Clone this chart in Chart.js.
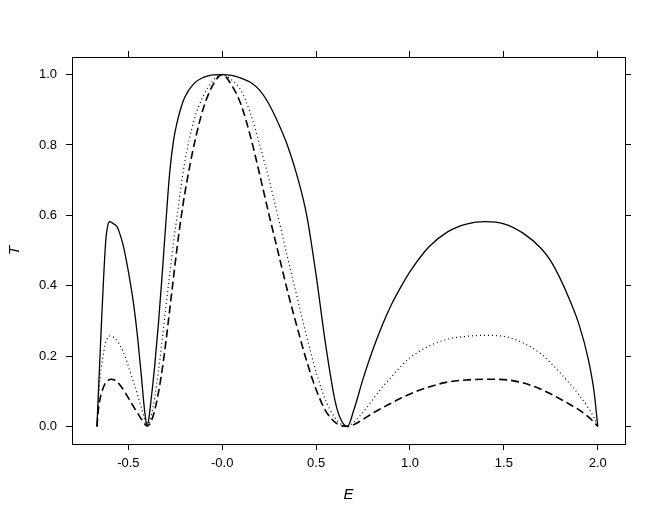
<!DOCTYPE html>
<html>
<head>
<meta charset="utf-8">
<script src="https://cdn.jsdelivr.net/npm/chart.js@4/dist/chart.umd.min.js"></script>
<style>
  html, body { margin: 0; padding: 0; background: #ffffff; }
  #wrap { width: 654px; height: 510px; }
</style>
</head>
<body>
<div id="wrap"><canvas id="chart" width="654" height="510"></canvas></div>
<script>
// Transmission T(E) for three cases (solid, dotted, dashed)
const energies = [
  -0.667, -0.66, -0.65, -0.64, -0.63, -0.62, -0.61, -0.60, -0.59, -0.58,
  -0.57, -0.56, -0.55, -0.53, -0.51, -0.49, -0.47, -0.45, -0.43, -0.42,
  -0.41, -0.40, -0.39, -0.38, -0.36, -0.34, -0.32, -0.30, -0.28, -0.26,
  -0.24, -0.22, -0.20, -0.15, -0.10, -0.05, 0.00, 0.05, 0.10, 0.15,
  0.20, 0.25, 0.30, 0.35, 0.40, 0.45, 0.50, 0.55, 0.60, 0.63,
  0.667, 0.70, 0.75, 0.80, 0.85, 0.90, 0.95, 1.00, 1.10, 1.20,
  1.30, 1.40, 1.50, 1.60, 1.70, 1.75, 1.80, 1.85, 1.90, 1.95,
  1.98, 2.00
];

const solidT = [
  0, 0.09, 0.21, 0.33, 0.44, 0.53, 0.57, 0.582, 0.580, 0.576,
  0.573, 0.567, 0.555, 0.52, 0.47, 0.41, 0.34, 0.25, 0.14, 0.08,
  0.03, 0.003, 0.025, 0.07, 0.17, 0.29, 0.43, 0.58, 0.72, 0.81,
  0.865, 0.905, 0.935, 0.975, 0.992, 0.999, 1.0, 0.998, 0.99, 0.978,
  0.955, 0.915, 0.86, 0.795, 0.71, 0.60, 0.43, 0.235, 0.075, 0.022,
  0, 0.045, 0.135, 0.215, 0.285, 0.345, 0.395, 0.44, 0.51, 0.553,
  0.575, 0.582, 0.576, 0.55, 0.505, 0.47, 0.42, 0.36, 0.29, 0.19,
  0.10, 0
];

const dottedT = [
  0, 0.07, 0.14, 0.18, 0.215, 0.24, 0.252, 0.257, 0.257, 0.254,
  0.25, 0.244, 0.236, 0.215, 0.188, 0.155, 0.122, 0.088, 0.052, 0.033,
  0.013, 0.002, 0.008, 0.025, 0.08, 0.155, 0.245, 0.34, 0.43, 0.52,
  0.60, 0.68, 0.75, 0.87, 0.94, 0.982, 1.0, 0.985, 0.955, 0.89,
  0.80, 0.70, 0.59, 0.475, 0.365, 0.255, 0.155, 0.075, 0.025, 0.007,
  0, 0.012, 0.04, 0.075, 0.11, 0.14, 0.17, 0.195, 0.228, 0.248,
  0.256, 0.259, 0.256, 0.238, 0.205, 0.18, 0.152, 0.122, 0.09, 0.052,
  0.025, 0
];

const dashedT = [
  0, 0.045, 0.08, 0.10, 0.115, 0.125, 0.13, 0.133, 0.134, 0.133,
  0.131, 0.127, 0.121, 0.107, 0.09, 0.072, 0.054, 0.037, 0.02, 0.012,
  0.005, 0.001, 0.004, 0.012, 0.045, 0.095, 0.16, 0.24, 0.33, 0.42,
  0.51, 0.59, 0.66, 0.80, 0.905, 0.97, 1.0, 0.97, 0.915, 0.825,
  0.715, 0.60, 0.49, 0.38, 0.28, 0.185, 0.105, 0.045, 0.012, 0.003,
  0, 0.005, 0.02, 0.037, 0.052, 0.066, 0.08, 0.092, 0.112, 0.126,
  0.132, 0.134, 0.133, 0.124, 0.105, 0.092, 0.078, 0.063, 0.047, 0.027,
  0.012, 0
];

const xTicks = [-0.5, 0, 0.5, 1, 1.5, 2];
const xTickLabels = ['-0.5', '-0.0', '0.5', '1.0', '1.5', '2.0'];
const yTicks = [0, 0.2, 0.4, 0.6, 0.8, 1.0];
const yTickLabels = ['0.0', '0.2', '0.4', '0.6', '0.8', '1.0'];

const toPoints = (ys) => energies.map((e, i) => ({ x: e, y: ys[i] }));

const FONT = "'Liberation Sans', Arial, sans-serif";

function setTicks(values) {
  return (scale) => { scale.ticks = values.map(v => ({ value: v })); };
}

function labelFor(values, labels) {
  return (value) => {
    const i = values.findIndex(v => Math.abs(v - value) < 1e-9);
    return i >= 0 ? labels[i] : '';
  };
}

const frameGrid = {
  display: true,
  drawOnChartArea: false,
  drawTicks: true,
  tickLength: 6,
  tickWidth: 1,
  tickColor: '#000000',
  color: '#000000'
};
const frameBorder = { display: true, color: '#000000', width: 1 };

function lineSet(data, dash, width) {
  return {
    data: toPoints(data),
    borderColor: '#000000',
    borderWidth: width,
    borderDash: dash,
    pointRadius: 0,
    fill: false,
    cubicInterpolationMode: 'monotone'
  };
}

new Chart(document.getElementById('chart').getContext('2d'), {
  type: 'line',
  data: {
    datasets: [
      lineSet(solidT, [], 1.3),
      lineSet(dottedT, [1, 3], 1.2),
      lineSet(dashedT, [8, 4], 1.6)
    ]
  },
  options: {
    responsive: false,
    animation: false,
    devicePixelRatio: 1,
    layout: { padding: 0 },
    plugins: {
      legend: { display: false },
      tooltip: { enabled: false }
    },
    scales: {
      x: {
        type: 'linear',
        position: 'bottom',
        min: -0.8,
        max: 2.145,
        afterBuildTicks: setTicks(xTicks),
        afterFit: (s) => { s.height = 66; },
        grid: frameGrid,
        border: frameBorder,
        ticks: {
          color: '#000000',
          padding: 6,
          maxRotation: 0,
          font: { family: FONT, size: 13 },
          callback: labelFor(xTicks, xTickLabels)
        },
        title: {
          display: true,
          text: 'E',
          color: '#000000',
          padding: { top: 0, bottom: 6 },
          font: { family: FONT, size: 15, style: 'italic' }
        }
      },
      xTop: {
        type: 'linear',
        position: 'top',
        min: -0.8,
        max: 2.145,
        afterBuildTicks: setTicks(xTicks),
        afterFit: (s) => { s.height = 57; },
        grid: frameGrid,
        border: frameBorder,
        ticks: { display: false }
      },
      y: {
        type: 'linear',
        position: 'left',
        min: -0.05,
        max: 1.05,
        afterBuildTicks: setTicks(yTicks),
        afterFit: (s) => { s.width = 72; },
        grid: frameGrid,
        border: frameBorder,
        ticks: {
          color: '#000000',
          padding: 9,
          font: { family: FONT, size: 13 },
          callback: labelFor(yTicks, yTickLabels)
        },
        title: {
          display: true,
          text: 'T',
          color: '#000000',
          padding: { top: 6, bottom: 0 },
          font: { family: FONT, size: 15, style: 'italic' }
        }
      },
      yRight: {
        type: 'linear',
        position: 'right',
        min: -0.05,
        max: 1.05,
        afterBuildTicks: setTicks(yTicks),
        afterFit: (s) => { s.width = 29; },
        grid: frameGrid,
        border: frameBorder,
        ticks: { display: false }
      }
    }
  }
});
</script>
</body>
</html>
